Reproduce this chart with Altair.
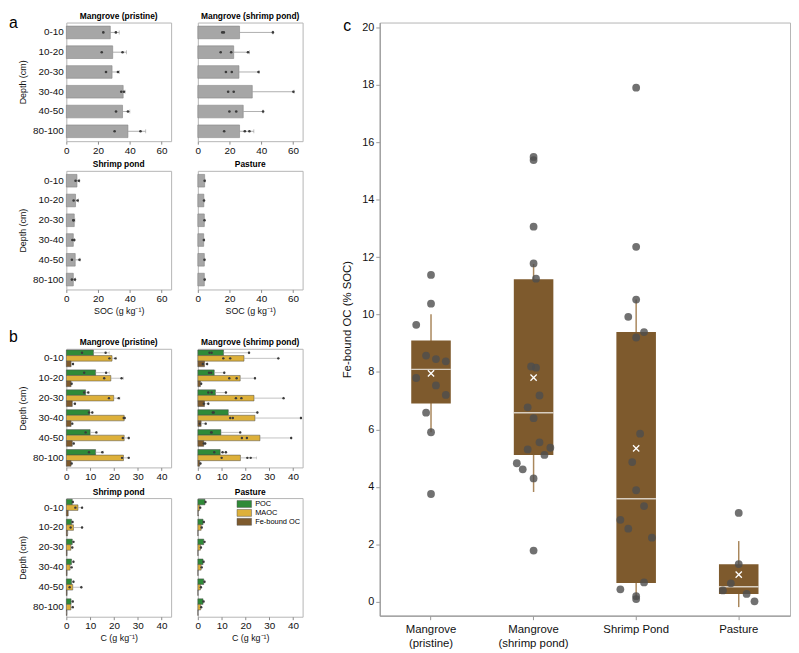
import altair as alt
import pandas as pd

FONT = "Liberation Sans"
depths = ["0-10", "10-20", "20-30", "30-40", "40-50", "80-100"]
fractions = ["POC", "MAOC", "Fe-bound OC"]
fraction_colors = ["#2f8a38", "#ddb03a", "#7e5a2d"]

# ---------- panel a : SOC (g kg-1) ----------
a_mp_mean = [27.7, 29.2, 28.8, 35.8, 35.4, 38.8]
a_mp_upper = [33.3, 37.9, 33.3, 37.0, 40.0, 50.0]
a_mp_pts = [[23.3, 31.2], [22.3, 35.4], [25.0, 32.5], [34.6, 36.3], [31.3, 38.8], [30.4, 46.7]]

a_msp_mean = [26.3, 22.6, 25.9, 34.3, 28.6, 26.3]
a_msp_upper = [47.3, 32.5, 38.6, 60.6, 41.1, 35.3]
a_msp_pts = [[15.4, 16.4, 47.3], [14.4, 21.0, 31.6], [17.7, 21.4, 38.2],
             [19.1, 22.6, 60.2], [19.9, 24.2, 41.1], [16.6, 29.6, 32.5]]

a_sp_mean = [6.7, 5.8, 5.0, 4.4, 5.6, 4.4]
a_sp_upper = [8.4, 7.6, 5.4, 5.2, 8.6, 5.8]
a_sp_pts = [[5.8, 7.9], [4.6, 7.1], [4.4, 4.6], [3.8, 5.0], [3.5, 8.3], [3.5, 5.4]]

a_pa_mean = [4.3, 3.8, 4.1, 3.7, 4.1, 4.1]
a_pa_upper = [4.6, 4.1, 4.4, 4.0, 4.4, 4.4]
a_pa_pts = [[4.3], [3.9], [4.2], [3.8], [4.2], [4.3]]

# ---------- panel b : C fractions (g kg-1) ----------
b_mp_mean = {"POC": [11.4, 12.3, 8.1, 9.8, 10.0, 12.3],
             "MAOC": [19.2, 18.7, 19.9, 24.3, 24.3, 24.0],
             "Fe-bound OC": [2.0, 2.0, 2.5, 2.0, 2.5, 2.0]}
b_mp_upper = {"POC": [18.0, 18.0, 9.5, 11.0, 12.8, 15.5],
              "MAOC": [21.0, 24.0, 22.5, 24.6, 26.3, 26.3],
              "Fe-bound OC": [2.9, 2.4, 3.7, 2.6, 3.2, 2.4]}
b_mp_pts = {"POC": [[6.6, 16.5], [7.5, 16.7], [7.5, 9.2], [9.5, 10.9], [8.1, 12.6], [9.5, 15.1]],
            "MAOC": [[18.1, 20.6], [15.9, 23.2], [17.9, 22.0], [24.1, 24.5], [23.7, 26.2], [23.4, 26.2]],
            "Fe-bound OC": [[2.8], [2.2], [3.6], [2.5], [3.1], [2.2]]}

b_msp_mean = {"POC": [10.8, 6.9, 7.4, 12.8, 9.7, 9.4],
              "MAOC": [19.4, 17.8, 23.6, 24.0, 26.1, 17.9],
              "Fe-bound OC": [2.8, 1.1, 2.8, 1.4, 2.5, 0.8]}
b_msp_upper = {"POC": [21.5, 11.1, 11.8, 25.0, 17.8, 11.8],
               "MAOC": [33.8, 24.0, 36.0, 43.3, 39.2, 24.7],
               "Fe-bound OC": [4.0, 1.5, 4.5, 3.4, 3.2, 1.2]}
b_msp_pts = {"POC": [[4.9, 5.8, 21.5], [4.7, 5.6, 11.1], [4.4, 5.8, 11.8], [6.3, 6.7, 25.0], [5.6, 5.8, 17.8], [6.9, 10.4, 11.8]],
             "MAOC": [[10.7, 13.6, 33.8], [13.2, 16.3, 24.0], [16.0, 18.3, 36.0], [13.6, 14.7, 43.3], [18.5, 20.6, 39.2], [10.0, 20.8, 22.2]],
             "Fe-bound OC": [[2.1, 3.9], [1.4], [2.5, 4.4], [0.8, 3.3], [2.5, 3.1], [1.1]]}

b_sp_mean = {"POC": [2.5, 2.2, 2.5, 2.2, 2.2, 2.0],
             "MAOC": [4.9, 3.0, 1.9, 1.6, 2.7, 1.9],
             "Fe-bound OC": [0.8, 0.5, 0.3, 0.3, 0.3, 0.2]}
b_sp_upper = {"POC": [2.9, 2.8, 3.2, 3.0, 3.0, 2.8],
              "MAOC": [6.8, 6.6, 2.7, 2.4, 6.4, 2.8],
              "Fe-bound OC": [1.0, 0.7, 0.4, 0.4, 0.4, 0.3]}
b_sp_pts = {"POC": [[2.7], [2.6], [3.0], [3.0], [3.0], [2.7]],
            "MAOC": [[3.8, 6.6], [1.8, 6.6], [2.5], [2.2], [1.4, 6.3], [2.7]],
            "Fe-bound OC": [[], [], [], [], [], []]}

b_pa_mean = {"POC": [3.0, 2.2, 2.5, 2.2, 2.5, 2.2],
             "MAOC": [0.8, 1.4, 1.1, 1.4, 1.1, 1.2],
             "Fe-bound OC": [0.2, 0.1, 0.1, 0.1, 0.1, 0.1]}
b_pa_upper = {"POC": [3.4, 2.7, 3.0, 2.6, 3.0, 2.6],
              "MAOC": [1.2, 1.8, 1.5, 1.8, 1.5, 1.6],
              "Fe-bound OC": [0.3, 0.2, 0.2, 0.2, 0.2, 0.2]}
b_pa_pts = {"POC": [[3.2], [2.5], [2.8], [2.4], [2.8], [2.4]],
            "MAOC": [[1.0], [1.6], [1.3], [1.6], [1.3], [1.4]],
            "Fe-bound OC": [[], [], [], [], [], []]}

# ---------- panel c : Fe-bound OC (% SOC) ----------
c_sites = ["Mangrove (pristine)", "Mangrove (shrimp pond)", "Shrimp Pond", "Pasture"]
c_q1 = [6.90, 5.11, 0.65, 0.27]
c_q3 = [9.10, 11.23, 9.39, 1.30]
c_median = [8.09, 6.58, 3.58, 0.52]
c_mean = [7.95, 7.80, 5.34, 0.94]
c_whisker_lo = [5.90, 3.82, 0.09, -0.19]
c_whisker_hi = [10.01, 11.76, 10.52, 2.11]

c_pts_mp = [11.38, 10.38, 9.64, 8.57, 8.45, 8.37, 7.79, 7.53, 7.20, 6.58, 5.90, 3.75]
c_jit_mp = [0, 0, -3, -1, 1, 3, -3, 1, 3, -1, 0, 0]
c_pts_msp = [15.49, 15.38, 13.06, 11.78, 11.25, 8.19, 8.15, 7.18, 6.77, 6.39, 5.55, 5.36,
             5.30, 5.11, 4.82, 4.61, 4.29, 1.78]
c_jit_msp = [0, 0, 0, 0, 0.5, -0.5, 0.5, 1.2, -1.2, 0, 1.2, 3.4, -1.2, 2.2, -3.4, -2.2, 0, 0]
c_pts_sp = [17.90, 12.36, 10.52, 9.92, 9.39, 9.20, 5.85, 4.86, 3.88, 3.33, 2.85, 2.54,
            2.23, 0.67, 0.43, 0.19, 0.09]
c_jit_sp = [0, 0, 0, -1.6, 1.6, 0, 0.8, -0.8, 0, 1.6, -3.2, -1.6, 3.2, 1.6, -3.2, 0, 0]
c_pts_pa = [3.09, 1.31, 0.64, 0.39, 0.27, 0.01]
c_jit_pa = [0, 0, -1.6, -3.2, 1.6, 3.2]

PW, PH = 106, 120
A_DOMAIN = [0, 66]
B_DOMAIN = [0, 44]


def long_points(values_per_depth):
    rows = []
    for d, vals in zip(depths, values_per_depth):
        for v in vals:
            rows.append({"depth": d, "v": v})
    return pd.DataFrame(rows, columns=["depth", "v"])


def y_axis(left):
    if left:
        return alt.Axis(title="Depth (cm)", labelFontSize=10, ticks=False, domain=False,
                        labelPadding=3, titleFontSize=9, titleFontWeight="normal",
                        titlePadding=5, grid=False)
    return None


def x_axis(bottom, title, values):
    if bottom:
        return alt.Axis(values=values, title=title, labelFontSize=10, tickSize=3, labelPadding=1,
                        domain=False, grid=False, titleFontSize=9, titleFontWeight="normal",
                        titlePadding=3, labelFlush=False)
    return alt.Axis(values=values, title=None, labelFontSize=10, tickSize=3, labelPadding=1,
                    domain=False, grid=False, labelFlush=False)


def tag_layer(letter, dx, dy):
    return alt.Chart(pd.DataFrame({"t": [letter]})).mark_text(
        align="left", baseline="alphabetic", fontSize=16, font=FONT, color="black"
    ).encode(text="t:N", x=alt.value(dx), y=alt.value(dy))


def title_layer(text):
    return alt.Chart(pd.DataFrame({"t": [text]})).mark_text(
        align="center", baseline="bottom", fontSize=8.5, fontWeight="bold", font=FONT, color="black"
    ).encode(text="t:N", x=alt.value(PW / 2), y=alt.value(-1.5))


def soc_panel(title, means, uppers, pts, left, bottom, tag=None):
    df = pd.DataFrame({"depth": depths, "mean": means, "upper": uppers})
    pdf = long_points(pts)
    y = alt.Y("depth:N", scale=alt.Scale(domain=depths, paddingInner=0.36, paddingOuter=0.18),
              axis=y_axis(left))
    xs = alt.Scale(domain=A_DOMAIN, nice=False)
    xa = x_axis(bottom, "SOC (g kg\u207b\u00b9)", [0, 20, 40, 60])
    bars = alt.Chart(df).mark_bar(fill="#a6a6a6", stroke="#858585", strokeWidth=0.6).encode(
        y=y, x=alt.X("mean:Q", scale=xs, axis=xa))
    err = alt.Chart(df).mark_rule(color="#9a9a9a", strokeWidth=0.8).encode(
        y=y, x=alt.X("mean:Q", scale=xs, axis=xa), x2="upper:Q")
    cap = alt.Chart(df).mark_tick(color="#9a9a9a", thickness=0.8, size=4).encode(
        y=y, x=alt.X("upper:Q", scale=xs, axis=xa))
    dots = alt.Chart(pdf).mark_circle(size=7, color="#3a3a3a", opacity=1).encode(
        y=y, x=alt.X("v:Q", scale=xs, axis=xa))
    layers = [bars, err, cap, dots, title_layer(title)]
    if tag:
        layers.append(tag_layer(*tag))
    return alt.layer(*layers).properties(width=PW, height=PH)


def frac_panel(title, means, uppers, pts, left, bottom, legend=False, tag=None):
    rows = []
    for f in fractions:
        for d, m, u in zip(depths, means[f], uppers[f]):
            rows.append({"depth": d, "frac": f, "mean": m, "upper": u})
    df = pd.DataFrame(rows)
    prow = []
    for f in fractions:
        for d, vals in zip(depths, pts[f]):
            for v in vals:
                prow.append({"depth": d, "frac": f, "v": v})
    pdf = pd.DataFrame(prow, columns=["depth", "frac", "v"])
    y = alt.Y("depth:N", scale=alt.Scale(domain=depths, paddingInner=0.16, paddingOuter=0.06),
              axis=y_axis(left))
    yo = alt.YOffset("frac:N", scale=alt.Scale(domain=fractions))
    xs = alt.Scale(domain=B_DOMAIN, nice=False)
    xa = x_axis(bottom, "C (g kg\u207b\u00b9)", [0, 10, 20, 30, 40])
    if legend:
        lg = alt.Legend(orient="top-right", title=None, offset=2, padding=0,
                        symbolType="M-2.1,-1H2.1V1H-2.1Z", symbolSize=49,
                        symbolStrokeColor="#555555", symbolStrokeWidth=0.5,
                        labelFontSize=7.5, labelFont=FONT, rowPadding=-3, labelOffset=7)
        fill = alt.Fill("frac:N", scale=alt.Scale(domain=fractions, range=fraction_colors), legend=lg)
    else:
        fill = alt.Fill("frac:N", scale=alt.Scale(domain=fractions, range=fraction_colors), legend=None)
    bars = alt.Chart(df).mark_bar(stroke="#4a4a4a", strokeWidth=0.5).encode(
        y=y, yOffset=yo, x=alt.X("mean:Q", scale=xs, axis=xa), fill=fill)
    err = alt.Chart(df).mark_rule(color="#a8a8a8", strokeWidth=0.7).encode(
        y=y, yOffset=yo, x=alt.X("mean:Q", scale=xs, axis=xa), x2="upper:Q")
    cap = alt.Chart(df).mark_tick(color="#a8a8a8", thickness=0.7, size=3).encode(
        y=y, yOffset=yo, x=alt.X("upper:Q", scale=xs, axis=xa))
    dots = alt.Chart(pdf).mark_circle(size=6, color="#3a3a3a", opacity=1).encode(
        y=y, yOffset=yo, x=alt.X("v:Q", scale=xs, axis=xa))
    layers = [bars, err, cap, dots, title_layer(title)]
    if tag:
        layers.append(tag_layer(*tag))
    return alt.layer(*layers).properties(width=PW, height=PH)


A1 = soc_panel("Mangrove (pristine)", a_mp_mean, a_mp_upper, a_mp_pts, True, False, tag=("a", -58, 6))
A2 = soc_panel("Mangrove (shrimp pond)", a_msp_mean, a_msp_upper, a_msp_pts, False, False)
A3 = soc_panel("Shrimp pond", a_sp_mean, a_sp_upper, a_sp_pts, True, True)
A4 = soc_panel("Pasture", a_pa_mean, a_pa_upper, a_pa_pts, False, True)

B1 = frac_panel("Mangrove (pristine)", b_mp_mean, b_mp_upper, b_mp_pts, True, False, tag=("b", -58, -7))
B2 = frac_panel("Mangrove (shrimp pond)", b_msp_mean, b_msp_upper, b_msp_pts, False, False)
B3 = frac_panel("Shrimp pond", b_sp_mean, b_sp_upper, b_sp_pts, True, True)
B4 = frac_panel("Pasture", b_pa_mean, b_pa_upper, b_pa_pts, False, True, legend=True)

# ---------- panel c ----------
box_df = pd.DataFrame({"site": c_sites, "q1": c_q1, "q3": c_q3, "med": c_median,
                       "mean": c_mean, "lo": c_whisker_lo, "hi": c_whisker_hi})
prow = []
for s, vals, jits in zip(c_sites, [c_pts_mp, c_pts_msp, c_pts_sp, c_pts_pa],
                         [c_jit_mp, c_jit_msp, c_jit_sp, c_jit_pa]):
    for v, j in zip(vals, jits):
        prow.append({"site": s, "v": v, "jit": j})
cpts_df = pd.DataFrame(prow)

label_expr = ("indexof(datum.label, ' (') > 0 ? [substring(datum.label, 0, indexof(datum.label, ' (')), "
              "substring(datum.label, indexof(datum.label, ' (') + 1)] : datum.label")
cx = alt.X("site:N", scale=alt.Scale(domain=c_sites, paddingInner=0, paddingOuter=0),
           axis=alt.Axis(title=None, labelAngle=0, labelExpr=label_expr, labelFontSize=11.5,
                         labelLineHeight=14, tickSize=4, labelPadding=4, grid=False,
                         domainColor="#9a9a9a", tickColor="#9a9a9a", domainWidth=1.2))
cys = alt.Scale(domain=[-0.49, 20.17], nice=False, zero=False)
cya = alt.Axis(values=list(range(0, 21, 2)), title="Fe-bound OC (% SOC)", labelFontSize=11,
               titleFontSize=11.5, titleFontWeight="normal", titlePadding=9, tickSize=4,
               labelPadding=2, grid=False, domainColor="#9a9a9a", tickColor="#9a9a9a",
               domainWidth=1.2)

whisk = alt.Chart(box_df).mark_rule(color="#a9875c", strokeWidth=1.5).encode(
    x=cx, y=alt.Y("lo:Q", scale=cys, axis=cya), y2="hi:Q")
box = alt.Chart(box_df).mark_bar(size=40, fill="#7e5a2d").encode(
    x=cx, y=alt.Y("q1:Q", scale=cys, axis=cya), y2="q3:Q")
med = alt.Chart(box_df).mark_tick(color="white", thickness=1.5, size=40).encode(
    x=cx, y=alt.Y("med:Q", scale=cys, axis=cya))
cdots = alt.Chart(cpts_df).mark_circle(size=62, color="#4d4d4d", opacity=0.8).encode(
    x=cx, xOffset=alt.XOffset("jit:Q", scale=alt.Scale(domain=[-10.4, 10.4])),
    y=alt.Y("v:Q", scale=cys, axis=cya))
cmean = alt.Chart(box_df).mark_point(shape="M-1,-1L1,1M-1,1L1,-1", size=40, filled=False,
                                      stroke="white", strokeWidth=1.3, opacity=1).encode(
    x=cx, y=alt.Y("mean:Q", scale=cys, axis=cya))
C = alt.layer(whisk, box, med, cdots, cmean, tag_layer("c", -37, 9)).properties(width=415, height=600)

rowA1 = alt.hconcat(A1, A2, spacing=27, bounds="flush")
rowA2 = alt.hconcat(A3, A4, spacing=27, bounds="flush")
rowB1 = alt.hconcat(B1, B2, spacing=27, bounds="flush")
rowB2 = alt.hconcat(B3, B4, spacing=27, bounds="flush").resolve_legend(fill="independent")
groupA = alt.vconcat(rowA1, rowA2, spacing=4)
groupB = alt.vconcat(rowB1, rowB2, spacing=5)
left = alt.vconcat(groupA, groupB, spacing=12)

chart = alt.hconcat(left, C, spacing=38, padding=0).configure(
    font=FONT
).configure_view(stroke="#b5b5b5", strokeWidth=1).configure_axis(
    labelFont=FONT, titleFont=FONT, labelColor="#111111", titleColor="#111111",
    tickColor="#8a8a8a", domainColor="#8a8a8a"
).configure_title(font=FONT)

chart.save("out.html", embed_options={"renderer": "svg", "actions": False})
